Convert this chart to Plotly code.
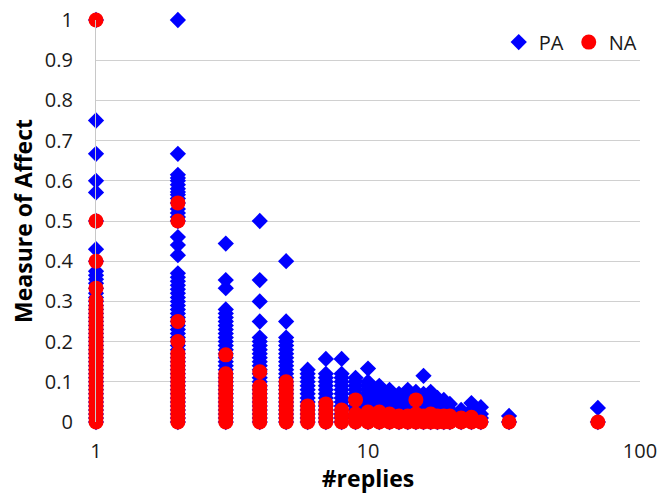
import plotly.graph_objects as go

# ---------------- data ----------------
reply_counts = [1, 2, 3, 4, 5, 6, 7, 8, 9, 10, 11, 12, 13, 14, 15, 16, 17, 18, 19, 20, 22, 24, 26, 33, 70]

# Positive affect (PA) values observed for each reply count
pa_1 = [0, .01, .02, .03, .04, .05, .06, .07, .08, .09, .10, .11, .12, .13, .14, .15, .16, .17, .18, .19, .20,
        .21, .22, .23, .24, .25, .26, .27, .28, .29, .30, .31, .32, .333, .345, .355, .365, .375, .40, .43,
        .50, .571, .60, .667, .75, 1.0]
pa_2 = [0, .01, .02, .03, .04, .05, .06, .07, .08, .09, .10, .11, .12, .13, .14, .15, .16, .17, .18, .19, .20,
        .21, .22, .23, .24, .25, .26, .27, .28, .29, .30, .31, .32, .33, .34, .35, .36, .37, .415, .44, .46,
        .50, .51, .52, .53, .545, .556, .565, .572, .58, .59, .60, .607, .615, .667, 1.0]
pa_3 = [0, .01, .02, .03, .04, .05, .06, .07, .08, .09, .10, .11, .12, .13, .14, .15, .16, .17, .18, .19, .20,
        .21, .22, .23, .24, .25, .26, .27, .28, .333, .353, .444]
pa_4 = [0, .01, .02, .03, .04, .05, .06, .07, .08, .09, .10, .11, .12, .13, .14, .15, .16, .17, .18, .19, .20,
        .21, .25, .30, .353, .50]
pa_5 = [0, .01, .02, .03, .04, .05, .06, .07, .08, .09, .10, .11, .12, .13, .14, .15, .16, .17, .18, .19, .20,
        .21, .25, .40]
pa_6 = [0, .01, .02, .03, .04, .05, .06, .07, .08, .09, .10, .11, .12, .13]
pa_7 = [0, .01, .02, .03, .04, .05, .06, .07, .08, .09, .10, .11, .12, .157]
pa_8 = [0, .01, .02, .03, .04, .05, .06, .07, .08, .09, .10, .11, .12, .157]
pa_9 = [0, .01, .02, .03, .04, .05, .06, .07, .08, .09, .10, .11]
pa_10 = [0, .01, .02, .03, .04, .05, .06, .07, .08, .09, .10, .133]
pa_11 = [0, .01, .02, .03, .04, .05, .06, .07, .08, .09]
pa_12 = [0, .01, .02, .03, .04, .05, .06, .07, .08]
pa_13 = [0, .01, .02, .03, .04, .05, .06, .07]
pa_14 = [0, .01, .02, .03, .04, .05, .06, .07, .08]
pa_15 = [0, .01, .02, .03, .04, .05, .06, .075]
pa_16 = [0, .01, .02, .03, .04, .05, .06, .07, .115]
pa_17 = [0, .01, .02, .03, .04, .05, .06, .075]
pa_18 = [0, .01, .02, .03, .04, .05, .06]
pa_19 = [0, .01, .02, .03, .04, .055]
pa_20 = [0, .01, .02, .03, .045]
pa_22 = [0, .01, .02, .03]
pa_24 = [0, .01, .02, .03, .047]
pa_26 = [0, .01, .02, .037]
pa_33 = [0, .015]
pa_70 = [0, .035]

# Negative affect (NA) values observed for each reply count
na_1 = [0, .01, .02, .03, .04, .05, .06, .07, .08, .09, .10, .11, .12, .13, .14, .15, .16, .17, .18, .19, .20,
        .21, .22, .23, .24, .25, .26, .27, .28, .29, .303, .333, .40, .50, 1.0]
na_2 = [0, .01, .02, .03, .04, .05, .06, .07, .08, .09, .10, .11, .12, .13, .14, .15, .16, .17, .20, .25,
        .50, .545]
na_3 = [0, .01, .02, .03, .04, .05, .06, .07, .08, .09, .10, .11, .12, .167]
na_4 = [0, .01, .02, .03, .04, .05, .06, .07, .08, .088, .125]
na_5 = [0, .01, .02, .03, .04, .05, .06, .07, .08, .09, .10]
na_6 = [0, .01, .02, .03, .04]
na_7 = [0, .01, .02, .03, .045]
na_8 = [0, .015, .03]
na_9 = [0, .01, .02, .055]
na_10 = [0, .01, .02, .025]
na_11 = [0, .01, .02, .025]
na_12 = [0, .01, .02]
na_13 = [0, .015]
na_14 = [0, .015]
na_15 = [0, .01, .02, .055]
na_16 = [0, .015]
na_17 = [0, .01, .02]
na_18 = [0, .015]
na_19 = [0, .015]
na_20 = [0, .015]
na_22 = [0, .01]
na_24 = [0, .012]
na_26 = [0]
na_33 = [0]
na_70 = [0]

pa_columns = [pa_1, pa_2, pa_3, pa_4, pa_5, pa_6, pa_7, pa_8, pa_9, pa_10, pa_11, pa_12, pa_13,
              pa_14, pa_15, pa_16, pa_17, pa_18, pa_19, pa_20, pa_22, pa_24, pa_26, pa_33, pa_70]
na_columns = [na_1, na_2, na_3, na_4, na_5, na_6, na_7, na_8, na_9, na_10, na_11, na_12, na_13,
              na_14, na_15, na_16, na_17, na_18, na_19, na_20, na_22, na_24, na_26, na_33, na_70]

series_names = ["PA", "NA"]
x_tick_values = [1, 10, 100]
x_tick_labels = ["1", "10", "100"]


def flatten(columns):
    xs, ys = [], []
    for r, vals in zip(reply_counts, columns):
        for v in vals:
            xs.append(r)
            ys.append(v)
    return xs, ys


pa_x, pa_y = flatten(pa_columns)
na_x, na_y = flatten(na_columns)

FONT = "Open Sans"
TXT = "#1a1a1a"

fig = go.Figure()
fig.add_trace(go.Scatter(
    x=pa_x, y=pa_y, mode="markers", name=series_names[0],
    marker=dict(symbol="diamond", size=12.5, color="#0000FF", line=dict(width=0)),
    cliponaxis=False,
))
fig.add_trace(go.Scatter(
    x=na_x, y=na_y, mode="markers", name=series_names[1],
    marker=dict(symbol="circle", size=15, color="#FF0000", line=dict(width=0)),
    cliponaxis=False,
))

fig.update_layout(
    template="none",
    width=658, height=494,
    margin=dict(l=96, r=18, t=20, b=72, pad=0),
    paper_bgcolor="white", plot_bgcolor="white",
    font=dict(family=FONT, size=20, color=TXT),
    showlegend=True,
    legend=dict(
        orientation="h", x=1.005, xanchor="right", y=0.945, yanchor="middle",
        bgcolor="rgba(0,0,0,0)", borderwidth=0, font=dict(family=FONT, size=20, color=TXT),
        itemwidth=30, traceorder="normal",
    ),
    xaxis=dict(
        type="log", range=[0, 2], automargin=False,
        tickvals=x_tick_values, ticktext=x_tick_labels,
        showgrid=False, zeroline=False, showline=False,
        ticks="", ticklabelstandoff=15, ticklabeloverflow="allow",
        tickfont=dict(family=FONT, size=20, color=TXT),
        title=dict(text="<b>#replies</b>", font=dict(family=FONT, size=23, color="#000"), standoff=0),
    ),
    yaxis=dict(
        range=[0, 1], dtick=0.1, tick0=0, automargin=False,
        showgrid=True, gridcolor="#D0D0D0", gridwidth=1.2,
        zeroline=False, showline=True, linecolor="#C8C8C8", linewidth=1.2,
        ticks="", ticklabelstandoff=18, ticklabeloverflow="allow",
        tickfont=dict(family=FONT, size=20, color=TXT),
        title=dict(text="<b>Measure of Affect</b>", font=dict(family=FONT, size=23, color="#000"), standoff=5),
    ),
)

# remove the default 8px page margin so the figure fills the window exactly; hide the modebar
fig.write_html("out.html", config={"displayModeBar": False},
               post_script="document.body.style.margin='0';")
